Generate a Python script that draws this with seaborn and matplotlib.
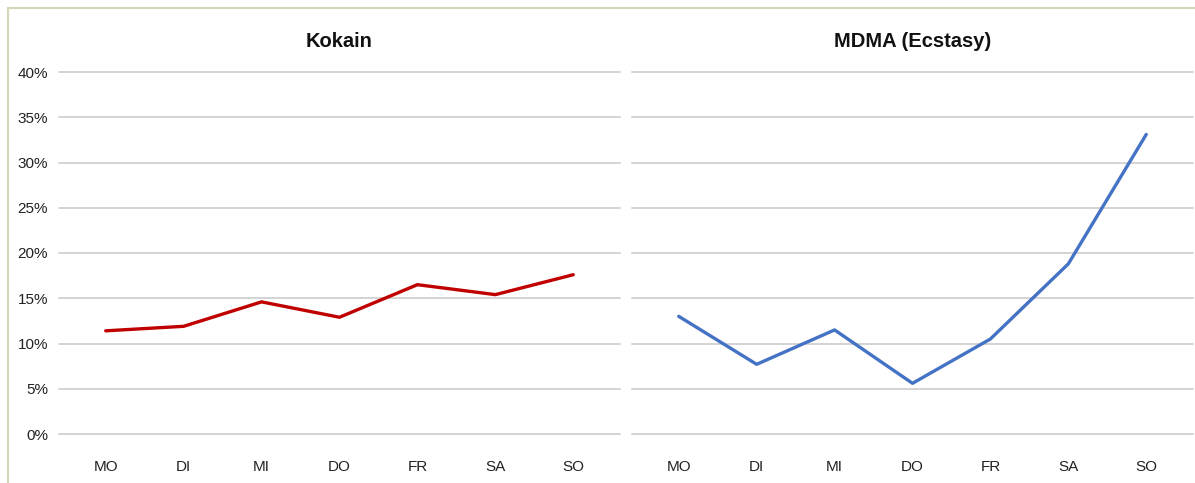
import numpy as np
import pandas as pd
import seaborn as sns
import matplotlib.pyplot as plt
from matplotlib.patches import Rectangle
from matplotlib.ticker import PercentFormatter

days = ["MO", "DI", "MI", "DO", "FR", "SA", "SO"]
kokain = [11.4, 11.9, 14.6, 12.9, 16.5, 15.4, 17.6]
mdma = [13.0, 7.7, 11.5, 5.6, 10.5, 18.8, 33.1]
titles = ["Kokain", "MDMA (Ecstasy)"]
colors = ["#c00000", "#4472c4"]
y_ticks = [0, 5, 10, 15, 20, 25, 30, 35, 40]

sns.set_theme(style="white")
plt.rcParams['font.family'] = ['Liberation Sans', 'DejaVu Sans']

fig = plt.figure(figsize=(11.95, 4.83), dpi=100)
W, H = 1195, 483

# beige frame around the whole chart (runs off the right/bottom edge)
fig.patches.append(Rectangle((8 / W, -0.05), 1.2, 1 - 8 / H + 0.05, transform=fig.transFigure,
                             fill=False, edgecolor="#d9d5bb", linewidth=1.6, zorder=0))

panel_left = [59, 632]
for i, (title, vals, col) in enumerate(zip(titles, [kokain, mdma], colors)):
    ax = fig.add_axes([panel_left[i] / W, 1 - 434 / H, 561 / W, (434 - 72) / H])
    df = pd.DataFrame({"pos": np.arange(len(days)), "val": vals})
    sns.lineplot(data=df, x="pos", y="val", ax=ax, color=col, linewidth=2.4)
    ax.set_xlim(-0.6, 6.6)
    ax.set_ylim(0, 40)
    ax.set_yticks(y_ticks)
    ax.set_xticks(df["pos"])
    ax.set_xticklabels(days)
    ax.yaxis.set_major_formatter(PercentFormatter(decimals=0))
    ax.grid(axis="y", color="#d3d3d3", linewidth=1.4)
    for gl in ax.get_ygridlines():
        gl.set_clip_on(False)
    ax.set_axisbelow(True)
    for s in ax.spines.values():
        s.set_visible(False)
    ax.tick_params(axis="both", length=0, labelsize=11, colors="#222222")
    ax.tick_params(axis="x", pad=19)
    ax.tick_params(axis="y", pad=8)
    ax.set_xlabel("")
    ax.set_ylabel("")
    ax.set_title(title, fontsize=14.5, fontweight="bold", color="#111111", pad=18)
    if i == 1:
        ax.set_yticklabels([])

fig.savefig("out.png", dpi=100, facecolor="white")
